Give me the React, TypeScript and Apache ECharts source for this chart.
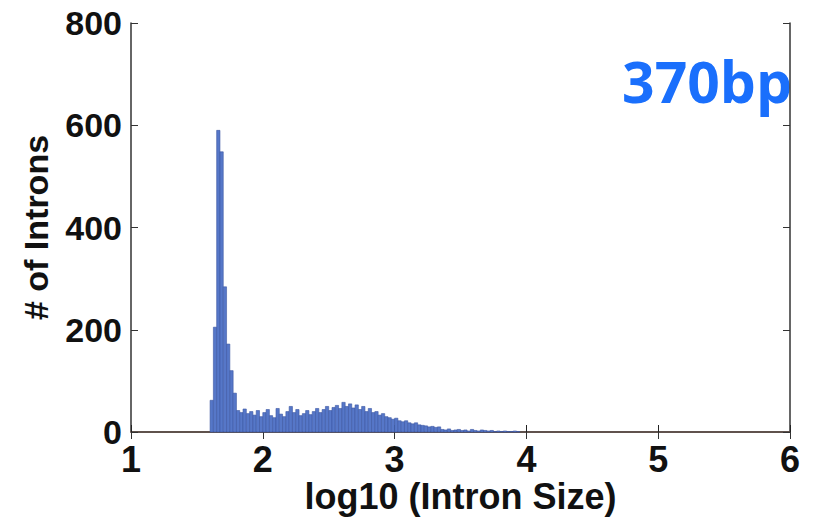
import React, { useEffect, useRef } from "react";
import * as echarts from "echarts";

const X_TICKS = [1, 2, 3, 4, 5, 6];
const Y_TICKS = [0, 200, 400, 600, 800];
const BIN_START = 1.6;
const BIN_WIDTH = 0.025;
// counts per bin (log10 intron size)
const counts = [
  62, 205, 590, 548, 284, 172, 120, 76,
  42, 38, 45, 36, 40, 33, 42, 30,
  38, 44, 32, 28, 46, 35, 30, 40,
  50, 38, 44, 32, 36, 42, 34, 40,
  46, 38, 44, 50, 42, 48, 52, 46,
  58, 50, 55, 47, 53, 44, 50, 40,
  46, 38, 40, 33, 36, 30, 28, 25,
  27, 22, 20, 22, 18, 16, 18, 14,
  13, 12, 10, 11, 9, 10, 5, 4,
  6, 3, 4, 5, 3, 4, 2, 5,
  3, 2, 4, 3, 2, 3, 1, 2,
  1, 2, 1, 1, 2, 1,
];
const annotation = "370bp";
const xTitle = "log10 (Intron Size)";
const yTitle = "# of Introns";

const FONT = "'Liberation Sans', Arial, Helvetica, sans-serif";

export default function App() {
  const ref = useRef<HTMLDivElement>(null);
  useEffect(() => {
    if (!ref.current) return;
    const chart = echarts.init(ref.current, undefined, { renderer: "svg" });
    const data = counts.map((c, i) => [BIN_START + i * BIN_WIDTH, c]);
    chart.setOption({
      animation: false,
      backgroundColor: "#ffffff",
      grid: { left: 131, right: 26, top: 23, bottom: 87, containLabel: false, outerBoundsMode: "none" },
      xAxis: [
        {
          type: "value",
          min: X_TICKS[0],
          max: X_TICKS[X_TICKS.length - 1],
          interval: 1,
          position: "bottom",
          name: xTitle,
          nameLocation: "middle",
          nameMoveOverlap: false,
          nameGap: 46,
          nameTextStyle: { fontFamily: FONT, fontWeight: "bold", fontSize: 36, color: "#111", lineHeight: 36, verticalAlign: "top" },
          axisLine: { show: true, lineStyle: { color: "#e0967a", width: 1.5 } },
          axisTick: { show: true, inside: true, length: 7, lineStyle: { color: "#222", width: 1 } },
          axisLabel: {
            fontFamily: FONT,
            fontWeight: "bold",
            fontSize: 36,
            lineHeight: 34,
            color: "#111",
            margin: 10,
          },
          splitLine: { show: false },
        },
        {
          type: "value",
          min: X_TICKS[0],
          max: X_TICKS[X_TICKS.length - 1],
          interval: 1,
          position: "top",
          axisLine: { show: true, lineStyle: { color: "#333", width: 1.5 } },
          axisTick: { show: true, inside: true, length: 7, lineStyle: { color: "#333" } },
          axisLabel: { show: false },
          splitLine: { show: false },
        },
      ],
      yAxis: [
        {
          type: "value",
          min: Y_TICKS[0],
          max: Y_TICKS[Y_TICKS.length - 1],
          interval: 200,
          position: "left",
          name: yTitle,
          nameLocation: "middle",
          nameMoveOverlap: false,
          nameRotate: 90,
          nameGap: 78,
          nameTextStyle: { fontFamily: FONT, fontWeight: "bold", fontSize: 34, color: "#111" },
          axisLine: { show: true, lineStyle: { color: "#333", width: 1.5 } },
          axisTick: { show: true, inside: true, length: 7, lineStyle: { color: "#333" } },
          axisLabel: {
            fontFamily: FONT,
            fontWeight: "bold",
            fontSize: 34,
            color: "#111",
            margin: 9,
          },
          splitLine: { show: false },
        },
        {
          type: "value",
          min: Y_TICKS[0],
          max: Y_TICKS[Y_TICKS.length - 1],
          interval: 200,
          position: "right",
          axisLine: { show: true, lineStyle: { color: "#333", width: 1.5 } },
          axisTick: { show: true, inside: true, length: 7, lineStyle: { color: "#333" } },
          axisLabel: { show: false },
          splitLine: { show: false },
        },
      ],
      series: [
        {
          type: "custom",
          xAxisIndex: 0,
          yAxisIndex: 0,
          data,
          renderItem: (params: any, api: any) => {
            const x0 = api.value(0);
            const y = api.value(1);
            const p0 = api.coord([x0, y]);
            const p1 = api.coord([x0 + BIN_WIDTH, 0]);
            return {
              type: "rect",
              shape: { x: p0[0], y: p0[1], width: p1[0] - p0[0], height: p1[1] - p0[1] },
              style: { fill: "#5677c8", stroke: "#3d58a3", lineWidth: 0.6 },
            };
          },
        },
      ],
      graphic: [
        {
          type: "text",
          right: 24,
          top: 52,
          style: {
            text: annotation,
            fontFamily: "'Open Sans', sans-serif",
            fontWeight: "bold",
            fontSize: 57,
            fill: "#1a6ffc",
          },
        },
      ],
    });
    return () => chart.dispose();
  }, []);
  return <div ref={ref} style={{ width: 816, height: 519, position: "absolute", left: 0, top: 0 }} />;
}
